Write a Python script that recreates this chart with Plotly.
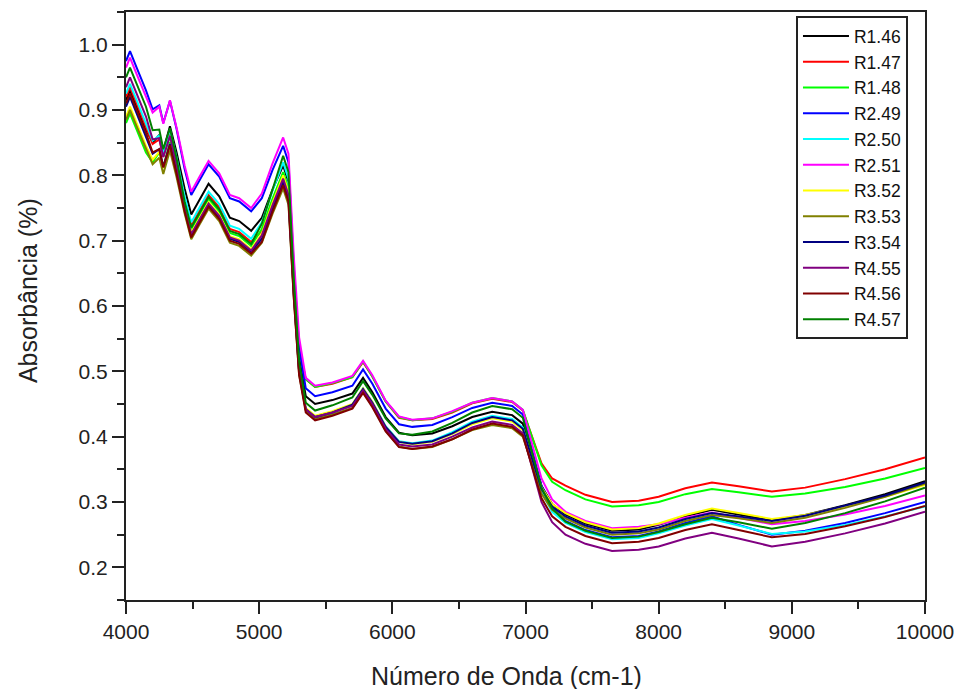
import plotly.graph_objects as go

wavenumber = [4000, 4030, 4080, 4150, 4200, 4250, 4280, 4330, 4380, 4440, 4490, 4550, 4620, 4700,
              4780, 4850, 4940, 5020, 5100, 5180, 5220, 5260, 5300, 5350, 5420, 5550, 5700, 5780,
              5850, 5950, 6050, 6150, 6300, 6450, 6600, 6750, 6900, 6980, 7050, 7120, 7200, 7300,
              7450, 7650, 7850, 8000, 8200, 8400, 8600, 8850, 9100, 9400, 9700, 10000]

r1_46 = [.915, .930, .905, .870, .850, .862, .838, .875, .835, .780, .740, .762, .787, .768,
         .735, .730, .715, .735, .778, .815, .790, .640, .520, .462, .450, .456, .466, .490,
         .468, .430, .406, .402, .405, .416, .430, .438, .433, .420, .372, .325, .297, .281,
         .267, .256, .258, .265, .278, .288, .281, .272, .280, .295, .312, .332]
r1_47 = [.920, .935, .910, .875, .848, .855, .828, .863, .820, .763, .723, .745, .770, .751,
         .718, .713, .698, .715, .758, .795, .770, .643, .535, .488, .476, .481, .491, .514,
         .492, .454, .429, .425, .427, .437, .451, .458, .453, .440, .399, .359, .336, .325,
         .311, .300, .302, .308, .321, .330, .324, .316, .322, .335, .350, .368]
r1_48 = [.880, .895, .870, .835, .820, .835, .812, .851, .812, .757, .717, .739, .764, .745,
         .712, .707, .692, .718, .764, .805, .780, .648, .537, .488, .476, .482, .491, .515,
         .492, .454, .430, .425, .428, .438, .452, .459, .454, .441, .398, .356, .331, .318,
         .304, .293, .295, .300, .312, .320, .315, .308, .313, .323, .336, .352]
r2_49 = [.975, .990, .965, .930, .901, .907, .880, .914, .871, .810, .770, .792, .817, .798,
         .765, .760, .745, .765, .808, .845, .820, .661, .537, .474, .462, .468, .478, .503,
         .481, .443, .419, .415, .418, .430, .444, .452, .447, .434, .379, .325, .292, .271,
         .257, .246, .248, .255, .268, .278, .265, .250, .256, .268, .283, .300]
r2_50 = [.925, .940, .915, .880, .853, .861, .835, .870, .827, .768, .728, .750, .775, .756,
         .723, .718, .703, .728, .776, .820, .795, .633, .506, .442, .430, .437, .449, .474,
         .453, .416, .393, .390, .394, .407, .423, .432, .427, .414, .364, .315, .285, .268,
         .254, .243, .245, .252, .264, .274, .264, .251, .255, .265, .278, .293]
r2_51 = [.965, .980, .955, .920, .896, .905, .879, .915, .873, .815, .775, .797, .822, .803,
         .770, .765, .750, .772, .818, .858, .833, .676, .552, .490, .478, .483, .493, .516,
         .494, .455, .431, .426, .428, .439, .452, .459, .454, .441, .388, .336, .304, .285,
         .271, .260, .262, .266, .276, .284, .276, .266, .271, .281, .294, .310]
r3_52 = [.890, .905, .880, .845, .824, .836, .811, .848, .808, .752, .712, .734, .759, .740,
         .707, .702, .687, .711, .758, .800, .775, .624, .503, .444, .432, .439, .450, .474,
         .453, .415, .392, .388, .392, .404, .419, .428, .423, .410, .366, .322, .297, .283,
         .269, .258, .260, .267, .280, .290, .283, .274, .280, .293, .308, .326]
r3_53 = [.885, .900, .875, .840, .817, .827, .802, .838, .797, .742, .702, .724, .749, .730,
         .697, .692, .677, .697, .741, .780, .755, .612, .495, .440, .428, .434, .444, .469,
         .447, .409, .385, .381, .384, .396, .410, .418, .413, .400, .356, .313, .288, .275,
         .261, .250, .252, .258, .271, .280, .275, .268, .276, .291, .308, .328]
r3_54 = [.905, .920, .895, .860, .833, .840, .813, .848, .805, .748, .708, .730, .755, .736,
         .703, .698, .683, .703, .749, .790, .765, .618, .499, .442, .430, .437, .449, .473,
         .452, .415, .392, .389, .393, .405, .421, .430, .425, .412, .366, .320, .293, .278,
         .264, .253, .255, .261, .274, .283, .278, .271, .279, .294, .310, .330]
r4_55 = [.935, .950, .925, .890, .855, .857, .828, .860, .815, .750, .710, .732, .757, .738,
         .705, .700, .685, .708, .754, .795, .770, .620, .500, .442, .430, .437, .447, .471,
         .450, .412, .388, .385, .388, .400, .414, .423, .418, .405, .352, .300, .269, .250,
         .236, .225, .227, .232, .244, .253, .244, .232, .239, .252, .267, .285]
r4_56 = [.910, .925, .900, .865, .835, .840, .812, .846, .802, .745, .705, .727, .752, .733,
         .700, .695, .680, .698, .744, .785, .760, .613, .494, .437, .425, .432, .443, .467,
         .445, .408, .384, .381, .385, .396, .411, .420, .415, .402, .354, .306, .278, .262,
         .248, .237, .239, .245, .257, .266, .257, .246, .251, .263, .277, .294]
r4_57 = [.950, .965, .940, .905, .869, .870, .840, .872, .826, .760, .720, .742, .767, .748,
         .715, .710, .695, .726, .779, .830, .805, .643, .516, .452, .440, .448, .460, .485,
         .464, .428, .405, .403, .408, .421, .437, .447, .442, .429, .375, .322, .290, .270,
         .256, .245, .247, .254, .266, .276, .269, .259, .268, .283, .301, .322]

series_names = ["R1.46", "R1.47", "R1.48", "R2.49", "R2.50", "R2.51",
                "R3.52", "R3.53", "R3.54", "R4.55", "R4.56", "R4.57"]
series_values = [r1_46, r1_47, r1_48, r2_49, r2_50, r2_51,
                 r3_52, r3_53, r3_54, r4_55, r4_56, r4_57]
series_colors = ["#000000", "#FF0000", "#00FF00", "#0000FF", "#00FFFF", "#FF00FF",
                 "#FFFF00", "#808000", "#000080", "#800080", "#800000", "#008000"]

x_ticks = [4000, 5000, 6000, 7000, 8000, 9000, 10000]
y_ticks = [0.2, 0.3, 0.4, 0.5, 0.6, 0.7, 0.8, 0.9, 1.0]

fig = go.Figure()
for name, vals, col in zip(series_names, series_values, series_colors):
    fig.add_trace(go.Scatter(x=wavenumber, y=vals, mode="lines", name=name,
                             line=dict(color=col, width=2)))

font_family = "Liberation Sans, Arial, sans-serif"
fig.update_layout(
    width=961, height=689,
    margin=dict(l=126, r=36, t=12, b=89, autoexpand=False),
    paper_bgcolor="white", plot_bgcolor="white",
    font=dict(family=font_family, color="#222222"),
    showlegend=True,
    legend=dict(x=0.9787, y=0.993, xanchor="right", yanchor="top",
                bgcolor="white", bordercolor="#222222", borderwidth=2,
                font=dict(size=17.5, family=font_family, color="#111111"),
                tracegroupgap=0, itemwidth=46),
    xaxis=dict(range=[4000, 10000], tickvals=x_ticks, ticktext=[str(v) for v in x_ticks],
               automargin=False,
               showgrid=False, zeroline=False, showline=True, linecolor="#222222", linewidth=2,
               mirror=True, ticks="outside", ticklen=12, tickwidth=2, tickcolor="#222222",
               tickfont=dict(size=21),
               minor=dict(dtick=500, tick0=4000, ticks="outside", ticklen=7, tickwidth=2,
                          tickcolor="#222222", showgrid=False)),
    yaxis=dict(range=[0.15, 1.05], tickvals=y_ticks, ticktext=[f"{v:.1f}" for v in y_ticks],
               automargin=False,
               showgrid=False, zeroline=False, showline=True, linecolor="#222222", linewidth=2,
               mirror=True, ticks="outside", ticklen=12, tickwidth=2, tickcolor="#222222",
               tickfont=dict(size=21),
               minor=dict(dtick=0.05, tick0=0.15, ticks="outside", ticklen=7, tickwidth=2,
                          tickcolor="#222222", showgrid=False)),
    annotations=[
        dict(text="Número de Onda (cm-1)", xref="paper", yref="paper", x=0.4756, y=-0.129,
             xanchor="center", yanchor="middle", showarrow=False,
             font=dict(size=25, family=font_family, color="#222222")),
        dict(text="Absorbância (%)", xref="paper", yref="paper", x=-0.1227, y=0.527,
             xanchor="center", yanchor="middle", showarrow=False, textangle=-90,
             font=dict(size=25, family=font_family, color="#222222")),
    ],
)

fig.write_html("out.html")
